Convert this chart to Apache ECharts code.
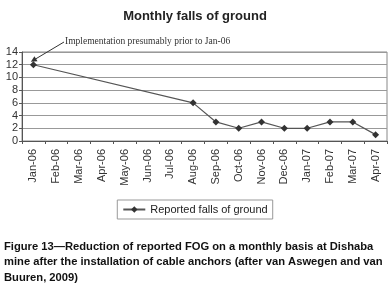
<!DOCTYPE html>
<html>
<head>
<meta charset="utf-8">
<script src="https://cdn.jsdelivr.net/npm/echarts@6/dist/echarts.min.js"></script>
<style>
    html, body { margin: 0; padding: 0; background: #fff; }
    #chart { width: 390px; height: 293px; }
</style>
</head>
<body>
<div id="chart"></div>
<script>
    // months on the x axis
    var months = ['Jan-06', 'Feb-06', 'Mar-06', 'Apr-06', 'May-06', 'Jun-06', 'Jul-06', 'Aug-06',
        'Sep-06', 'Oct-06', 'Nov-06', 'Dec-06', 'Jan-07', 'Feb-07', 'Mar-07', 'Apr-07'];
    // reported falls of ground per month (no report Feb-Jul 06)
    var falls = [12, null, null, null, null, null, null, 6, 3, 2, 3, 2, 2, 3, 3, 1];
    var yTicks = [0, 2, 4, 6, 8, 10, 12, 14];
    var arrowTip = ['Jan-06', 12.7];

    var chart = echarts.init(document.getElementById('chart'));
    var option = {
        backgroundColor: '#fff',
        animation: false,
        title: {
            text: 'Monthly falls of ground',
            left: 'center',
            top: 5,
            textStyle: { fontFamily: 'Liberation Sans', fontSize: 13, fontWeight: 'bold', color: '#222' }
        },
        grid: { left: 22, right: 3, top: 52, bottom: 152, show: true, borderColor: '#888', borderWidth: 1 },
        legend: {
            top: 200,
            left: 'center',
            data: ['Reported falls of ground'],
            itemWidth: 22,
            itemHeight: 8,
            itemGap: 4,
            borderColor: '#999',
            borderWidth: 1,
            borderRadius: 0,
            padding: [4, 5],
            textStyle: { fontFamily: 'Liberation Sans', fontSize: 11, color: '#222' }
        },
        xAxis: {
            type: 'category',
            data: months,
            boundaryGap: true,
            axisLine: { lineStyle: { color: '#555' } },
            axisTick: { show: true, alignWithLabel: false, length: 3, lineStyle: { color: '#555' } },
            axisLabel: { rotate: 90, interval: 0, fontFamily: 'Liberation Sans', fontSize: 11, color: '#333', margin: 8 }
        },
        yAxis: {
            type: 'value',
            min: yTicks[0],
            max: yTicks[yTicks.length - 1],
            interval: 2,
            axisLine: { show: true, lineStyle: { color: '#555' } },
            axisTick: { show: true, length: 3, lineStyle: { color: '#555' } },
            axisLabel: { fontFamily: 'Liberation Sans', fontSize: 11, color: '#333', margin: 4 },
            splitLine: { lineStyle: { color: '#999', width: 1 } }
        },
        series: [{
            name: 'Reported falls of ground',
            type: 'line',
            data: falls,
            connectNulls: true,
            symbol: 'diamond',
            symbolSize: 7,
            color: '#333',
            lineStyle: { color: '#555', width: 1.2 },
            markLine: {
                silent: true,
                animation: false,
                symbol: ['triangle', 'none'],
                symbolSize: 6,
                label: { show: false },
                lineStyle: { color: '#333', width: 1, type: 'solid' },
                data: [[{ coord: arrowTip }, { x: 64, y: 42 }]]
            }
        }],
        graphic: [{
            type: 'text',
            left: 65,
            top: 36,
            style: { text: 'Implementation presumably prior to Jan-06', font: '9.5px "Liberation Serif"', fill: '#333' }
        }, {
            type: 'text',
            left: 4,
            top: 239,
            style: {
                text: 'Figure 13\u2014Reduction of reported FOG on a monthly basis at Dishaba\nmine after the installation of cable anchors (after van Aswegen and van\nBuuren, 2009)',
                font: 'bold 11.2px "Liberation Sans"',
                lineHeight: 15.5,
                fill: '#111'
            }
        }]
    };
    chart.setOption(option);
</script>
</body>
</html>
